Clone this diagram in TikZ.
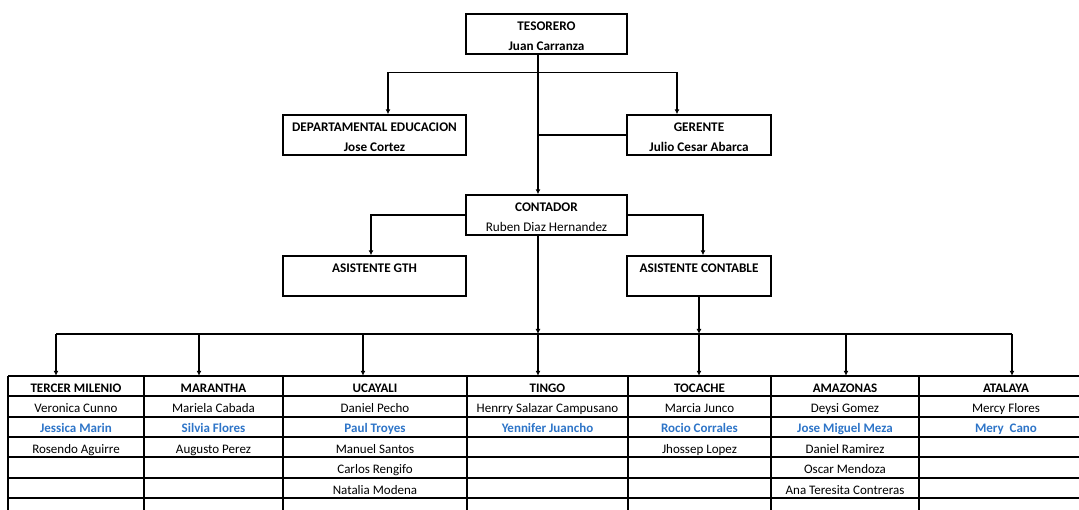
\documentclass[tikz,border=0pt]{standalone}
\usepackage{fontspec}
\setmainfont{Carlito}
\usetikzlibrary{arrows.meta, positioning}
\definecolor{nameblue}{RGB}{46,117,200}
\newcommand{\second}[1]{\textcolor{nameblue}{\textbf{#1}}}

\begin{document}
\begin{tikzpicture}[
    x=1pt, y=-1pt,
    box/.style={rectangle, draw, line width=1.4pt, minimum height=40pt, inner sep=0pt, align=center,
        text height=32.6pt, text depth=0pt, font={\fontsize{13.2}{20}\selectfont\bfseries}},
    cell/.style={minimum width=#1, minimum height=26pt, inner sep=0pt, text height=9pt, text depth=3pt,
        font={\fontsize{13}{15}\selectfont\bfseries}},
    person/.style={inner sep=0pt, text height=9pt, text depth=3pt, font={\fontsize{13}{15}\selectfont}},
    arrow/.style={-{Latex[length=5pt,width=5pt]}, line width=1.6pt},
    link/.style={line width=1.6pt},
    grid/.style={line width=1.6pt}
]
\useasboundingbox (0,0) rectangle (1079,510);

% Boxes
\node[box, minimum width=161pt] (tesorero) at (546.5,34) {TESORERO\\Juan Carranza};
\node[box, minimum width=183pt] (educacion) at (374.5,135) {DEPARTAMENTAL EDUCACION\\Jose Cortez};
\node[box, minimum width=144pt] (gerente) at (699,135) {GERENTE\\Julio Cesar Abarca};
\node[box, minimum width=161pt] (contador) at (546.5,215) {CONTADOR\\\mdseries Ruben Diaz Hernandez};
\node[box, minimum width=183pt] (gth) at (374.5,276) {ASISTENTE GTH\\\mbox{}};
\node[box, minimum width=144pt] (contable) at (699,276) {ASISTENTE CONTABLE\\\mbox{}};

% Helper points
\coordinate (trunk) at (538,0);
\coordinate (edu) at (388,0);
\coordinate (ger) at (677,0);
\coordinate (gthx) at (371,0);
\coordinate (contx) at (703,0);
\foreach \x/\n in {56/b1, 199/b2, 363/b3, 538/b4, 699/b5, 846/b6, 1012/b7}
    \coordinate (\n) at (\x,334);

% Table grid
\foreach \x in {8,144,283,467,628,771,919}
    \draw[grid] (\x,376) -- (\x,515);
\foreach \y in {376,396,417,437,457,478,498}
    \draw[grid] (8,\y) -- (1085,\y);

% Table heads
\node[cell=136pt] (milenio) at (76,389) {TERCER MILENIO};
\node[cell=139pt] (marantha) at (213.5,389) {MARANTHA};
\node[cell=184pt] (ucayali) at (375,389) {UCAYALI};
\node[cell=161pt] (tingo) at (547.5,389) {TINGO};
\node[cell=143pt] (tocache) at (699.5,389) {TOCACHE};
\node[cell=148pt] (amazonas) at (845,389) {AMAZONAS};
\node[cell=160pt] (atalaya) at (1006,389) {ATALAYA};

% Names
\foreach \who [count=\i] in {Veronica Cunno, \second{Jessica Marin}, Rosendo Aguirre}
    \node[person] (milenio\i) at (76,389+20.4*\i) {\who};
\foreach \who [count=\i] in {Mariela Cabada, \second{Silvia Flores}, Augusto Perez}
    \node[person] (marantha\i) at (213.5,389+20.4*\i) {\who};
\foreach \who [count=\i] in {Daniel Pecho, \second{Paul Troyes}, Manuel Santos, Carlos Rengifo, Natalia Modena}
    \node[person] (ucayali\i) at (375,389+20.4*\i) {\who};
\foreach \who [count=\i] in {Henrry Salazar Campusano, \second{Yennifer Juancho}}
    \node[person] (tingo\i) at (547.5,389+20.4*\i) {\who};
\foreach \who [count=\i] in {Marcia Junco, \second{Rocio Corrales}, Jhossep Lopez}
    \node[person] (tocache\i) at (699.5,389+20.4*\i) {\who};
\foreach \who [count=\i] in {Deysi Gomez, \second{Jose Miguel Meza}, Daniel Ramirez, Oscar Mendoza, Ana Teresita Contreras}
    \node[person] (amazonas\i) at (845,389+20.4*\i) {\who};
\foreach \who [count=\i] in {Mercy Flores, \second{Mery\ \ Cano}}
    \node[person] (atalaya\i) at (1006,389+20.4*\i) {\who};

% Arrows
\draw[arrow] (tesorero.south -| trunk) -- (contador.north -| trunk);
\draw[arrow] (tesorero.south -| trunk) ++(0,18) -| (educacion.north -| edu);
\draw[arrow] (tesorero.south -| trunk) ++(0,18) -| (gerente.north -| ger);
\draw[link] (gerente.west) -- (gerente.west -| trunk);
\draw[arrow] (contador.west) -| (gth.north -| gthx);
\draw[arrow] (contador.east) -| (contable.north -| contx);
\draw[arrow] (contador.south -| trunk) -- (b4);
\draw[arrow] (contable.south) -- (b5);
\draw[link] (b1) -- (b7);
\foreach \b/\h in {b1/milenio, b2/marantha, b3/ucayali, b4/tingo, b5/tocache, b6/amazonas, b7/atalaya}
    \draw[arrow] (\b) -- (\b |- \h.north);

\end{tikzpicture}
\end{document}
